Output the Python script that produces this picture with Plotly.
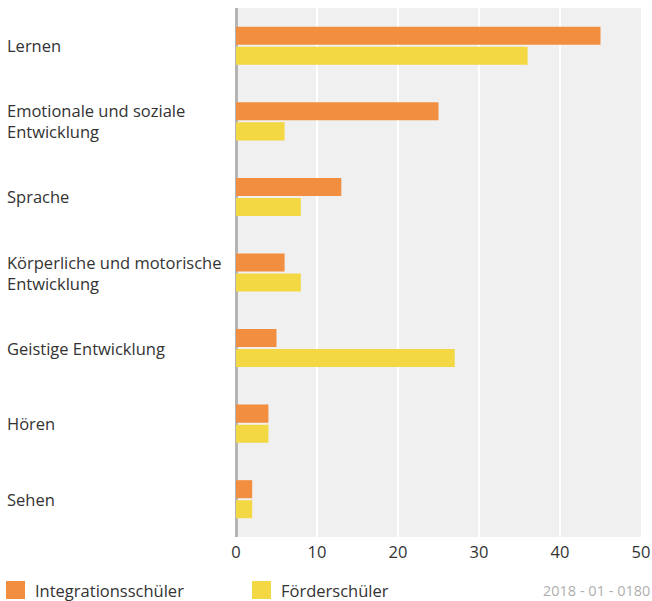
import plotly.graph_objects as go

categories = ["Lernen", "Emotionale und soziale<br>Entwicklung", "Sprache",
              "Körperliche und motorische<br>Entwicklung", "Geistige Entwicklung",
              "Hören", "Sehen"]
integration = [45, 25, 13, 6, 5, 4, 2]
foerder = [36, 6, 8, 8, 27, 4, 2]
series_names = ["Integrationsschüler", "Förderschüler"]
series_colors = ["#F28E3F", "#F3D843"]
tick_vals = [0, 10, 20, 30, 40, 50]
source_note = "2018 - 01 - 0180"

FONT = "Open Sans"
TXT = "#333333"
W, H = 652, 601
ML, MR, MT, MB = 236, 11, 8, 64
PW, PH = W - ML - MR, H - MT - MB


def px_x(X):
    return (X - ML) / PW


def px_y(Y):
    return (H - MB - Y) / PH


fig = go.Figure()
for name, vals, col in zip(series_names, [integration, foerder], series_colors):
    fig.add_trace(go.Bar(y=categories, x=vals, orientation="h", name=name,
                         marker=dict(color=col, line=dict(width=0))))

for c in categories:
    fig.add_annotation(x=px_x(5), xref="paper", xanchor="left", y=c, yref="y",
                       text=c, showarrow=False, align="left",
                       font=dict(family=FONT, size=16.5, color=TXT))

# custom legend
legend_x = [6, 252]
for (lx, name, col) in zip(legend_x, series_names, series_colors):
    fig.add_shape(type="rect", xref="paper", yref="paper",
                  x0=px_x(lx), x1=px_x(lx + 19), y0=px_y(599), y1=px_y(581),
                  fillcolor=col, line=dict(width=0))
    fig.add_annotation(x=px_x(lx + 27), xref="paper", xanchor="left",
                       y=px_y(590), yref="paper", yanchor="middle",
                       text=name, showarrow=False,
                       font=dict(family=FONT, size=16.5, color=TXT))

fig.add_annotation(x=px_x(652), xref="paper", xanchor="right", y=px_y(590), yref="paper",
                   yanchor="middle", text=source_note, showarrow=False,
                   font=dict(family=FONT, size=14.5, color="#b0b0b0"))

fig.update_layout(
    width=W, height=H,
    margin=dict(l=ML, r=MR, t=MT, b=MB, autoexpand=False),
    paper_bgcolor="white", plot_bgcolor="#F0F0F0",
    barmode="group", bargap=0.47, bargroupgap=0.1,
    font=dict(family=FONT, size=16.5, color=TXT),
    showlegend=False,
    xaxis=dict(range=[0, 50], tickvals=tick_vals, showgrid=True, gridcolor="white",
               gridwidth=2, zeroline=True, zerolinecolor="#b4b4b4", zerolinewidth=3,
               ticks="", ticklabelstandoff=3, automargin=False,
               tickfont=dict(family=FONT, size=16.5, color=TXT), fixedrange=True),
    yaxis=dict(autorange="reversed", showticklabels=False, showgrid=False, zeroline=False,
               ticks="", fixedrange=True, automargin=False),
)

fig.write_html("out.html",
               config={"displayModeBar": False, "responsive": False},
               post_script="document.body.style.margin='0';document.body.style.overflow='hidden';")
